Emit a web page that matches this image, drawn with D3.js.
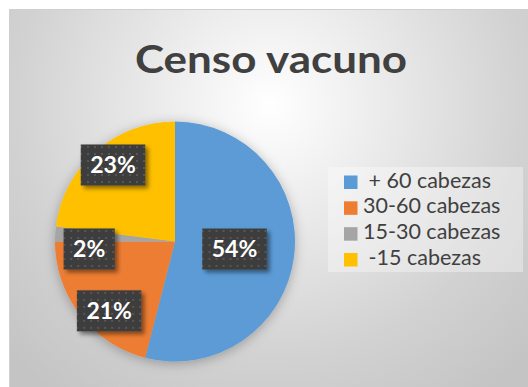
<!DOCTYPE html>
<html>
<head>
<meta charset="utf-8">
<script src="https://cdn.jsdelivr.net/npm/d3@7"></script>
<style>
  html, body { margin: 0; padding: 0; background: #ffffff; }
  svg { display: block; }
  text { font-family: Lato, "Open Sans", "DejaVu Sans", sans-serif; }
</style>
</head>
<body>
<svg id="chart" width="528" height="387"></svg>
<script>
// Herd size groups and their share of the total (%)
const categories = [" + 60 cabezas", "30-60 cabezas", "15-30 cabezas", " -15 cabezas"];
const shares = [54, 21, 2, 23];
const sliceColors = ["#5b9bd5", "#ed7d31", "#a5a5a5", "#ffc000"];
const chartTitle = "Censo vacuno";

const W = 528, H = 387;
const svg = d3.select("#chart");
const defs = svg.append("defs");

// Soft radial backdrop, bright behind the title and greying to the edges
const bg = defs.append("radialGradient")
  .attr("id", "bg").attr("gradientUnits", "userSpaceOnUse")
  .attr("cx", 270).attr("cy", 105).attr("r", 360);
[[0, "#ffffff"], [0.3, "#ececec"], [0.7, "#d2d2d2"], [1, "#c4c4c4"]]
  .forEach(([o, c]) => bg.append("stop").attr("offset", o).attr("stop-color", c));

// Halo under the pie
const pieShadow = defs.append("filter").attr("id", "pieShadow")
  .attr("x", "-20%").attr("y", "-20%").attr("width", "140%").attr("height", "140%");
pieShadow.append("feDropShadow").attr("dx", 0).attr("dy", 2)
  .attr("stdDeviation", 6).attr("flood-color", "#000").attr("flood-opacity", 0.28);

// Drop shadow for the data label boxes
const boxShadow = defs.append("filter").attr("id", "boxShadow")
  .attr("x", "-20%").attr("y", "-20%").attr("width", "150%").attr("height", "160%");
boxShadow.append("feDropShadow").attr("dx", 3).attr("dy", 3)
  .attr("stdDeviation", 2).attr("flood-color", "#000").attr("flood-opacity", 0.45);

// Dotted dark fill of the label boxes
const dots = defs.append("pattern").attr("id", "dots")
  .attr("patternUnits", "userSpaceOnUse").attr("width", 7).attr("height", 7);
dots.append("rect").attr("width", 7).attr("height", 7).attr("fill", "#3d3d3d");
dots.append("rect").attr("x", 2).attr("y", 2).attr("width", 2).attr("height", 2).attr("fill", "#575757");

// Chart area
svg.append("rect")
  .attr("x", 9.5).attr("y", 9.5).attr("width", W).attr("height", H)
  .attr("fill", "url(#bg)").attr("stroke", "#d0d0d0");

// Title
svg.append("text")
  .attr("x", 271).attr("y", 73)
  .attr("text-anchor", "middle")
  .attr("font-size", 39).attr("font-weight", 700)
  .attr("fill", "#404040")
  .attr("textLength", 272).attr("lengthAdjust", "spacingAndGlyphs")
  .text(chartTitle);

// Pie
const cx = 175, cy = 241.5, R = 120;
const pie = d3.pie().sort(null).value(d => d);
const arcs = pie(shares);
const arc = d3.arc().innerRadius(0).outerRadius(R);
const color = d3.scaleOrdinal().domain(categories).range(sliceColors);

const gPie = svg.append("g").attr("transform", `translate(${cx},${cy})`);
gPie.append("g").attr("filter", "url(#pieShadow)")
  .selectAll("path").data(arcs).join("path")
  .attr("d", arc)
  .attr("fill", (d, i) => color(categories[i]));

// Data labels: large slices inside, small slices toward the rim (best fit)
const labelNudge = [[0, 0], [10, 10.5], [10, 13.5], [1.5, -4.5]];
const gLabels = gPie.append("g");
arcs.forEach((a, i) => {
  const frac = a.value >= 50 ? 0.5 : 0.8;
  const [lx, ly] = d3.arc().innerRadius(R * frac).outerRadius(R * frac).centroid(a);
  const x = lx + labelNudge[i][0], y = ly + labelNudge[i][1];
  const label = `${a.value}%`;
  const g = gLabels.append("g").attr("transform", `translate(${x},${y})`);
  const t = g.append("text")
    .attr("text-anchor", "middle").attr("dy", "0.36em")
    .attr("font-size", 23).attr("font-weight", 700)
    .attr("fill", "#ffffff").text(label);
  const w = t.node().getComputedTextLength() + 19, h = 41;
  g.insert("rect", "text")
    .attr("x", -w / 2).attr("y", -h / 2).attr("width", w).attr("height", h)
    .attr("fill", "url(#dots)").attr("filter", "url(#boxShadow)");
});

// Legend
const legend = svg.append("g");
legend.append("rect")
  .attr("x", 328).attr("y", 167).attr("width", 195).attr("height", 105)
  .attr("fill", "#ffffff").attr("fill-opacity", 0.35);
const rowY = d3.scalePoint().domain(categories).range([187.5, 265]);
categories.forEach(c => {
  const y = rowY(c);
  legend.append("rect")
    .attr("x", 344).attr("y", y - 12).attr("width", 13.5).attr("height", 13.5)
    .attr("fill", color(c));
  legend.append("text")
    .attr("x", 363).attr("y", y)
    .attr("font-size", 21.5).attr("fill", "#404040")
    .style("white-space", "pre").attr("xml:space", "preserve")
    .text(c);
});
</script>
</body>
</html>
